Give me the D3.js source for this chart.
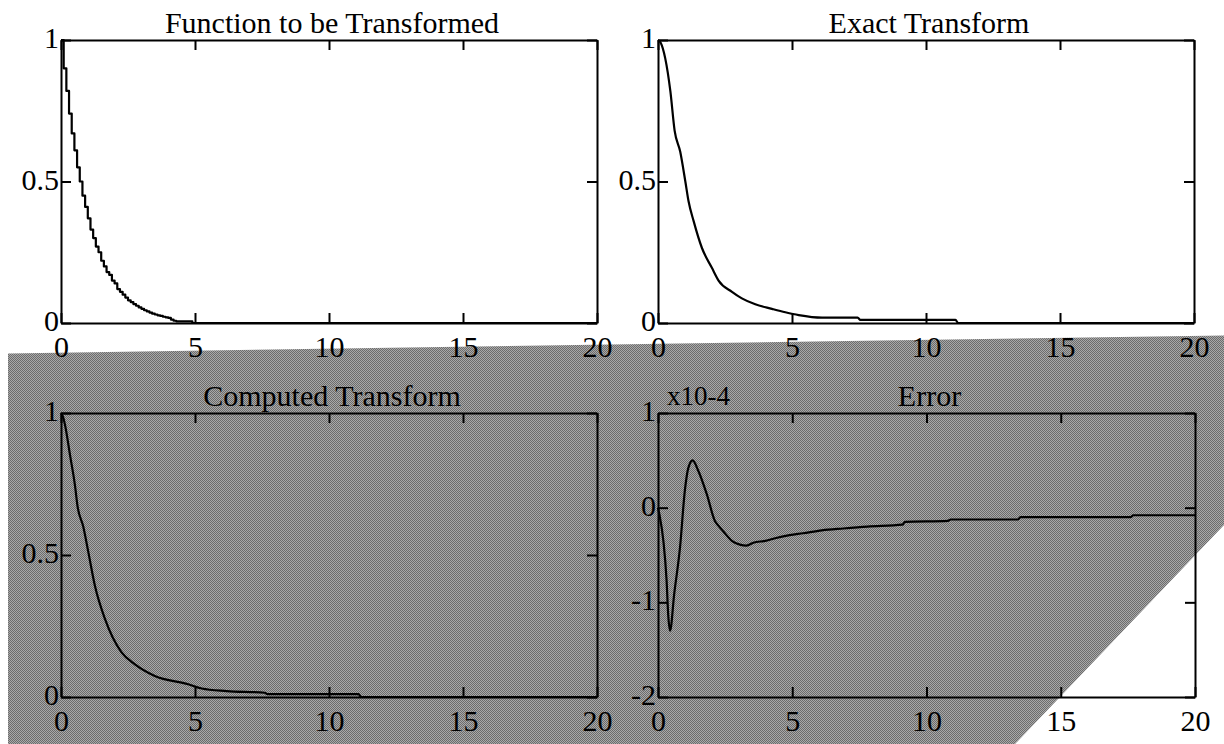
<!DOCTYPE html>
<html>
<head>
<meta charset="utf-8">
<script src="https://cdn.jsdelivr.net/npm/d3@7"></script>
<style>
  body { margin: 0; background: #fff; }
  text { font-family: "Liberation Serif", "Times New Roman", serif; fill: #000; }
</style>
</head>
<body>
<div id="viz"></div>
<script>

// ---- data ----
var xTicks = [0, 5, 10, 15, 20];
var unitTicks = [0, 0.5, 1];
var errTicks = [-2, -1, 0, 1];

// function to be transformed (stair plot)
var fnX = [0,0.1,0.2,0.3,0.4,0.5,0.6,0.7,0.8,0.9,1.0,1.1,1.2,1.3,1.4,1.5,1.6,1.7,1.8,1.9,
           2.0,2.1,2.2,2.3,2.4,2.5,2.6,2.7,2.8,2.9,3.0,3.1,3.2,3.3,3.4,3.5,3.6,3.7,3.8,3.9,
           4.0,4.1,4.2,4.3,4.4,4.5,4.6,4.7,4.8,4.9,5.0,20];
var fnY = [1.00,0.90,0.82,0.74,0.67,0.61,0.55,0.50,0.45,0.41,0.37,0.33,0.30,0.27,0.25,0.22,0.20,0.18,0.17,0.15,
           0.14,0.12,0.11,0.10,0.09,0.08,0.074,0.067,0.061,0.055,0.05,0.045,0.041,0.037,0.033,0.03,0.027,0.025,0.022,0.02,
           0.018,0.012,0.008,0.006,0.006,0.006,0.006,0.006,0.006,0,0,0];

// exact transform
var exactX = [0,0.1,0.27,0.46,0.62,0.83,1.02,1.14,1.33,1.64,2.01,2.26,2.76,3.13,3.63,4.25,4.75,5.25,6.12,7.45,7.55,11.1,11.2,20];
var exactY = [1.00,0.99,0.935,0.82,0.68,0.605,0.50,0.43,0.36,0.265,0.195,0.15,0.11,0.087,0.066,0.05,0.038,0.028,0.019,0.019,0.011,0.011,0,0];

// computed transform
var compX = [0,0.08,0.15,0.34,0.52,0.62,0.83,1.02,1.27,1.64,2.26,2.76,3.5,4.75,5.25,6.18,7.6,7.7,11.1,11.2,20];
var compY = [1.00,0.985,0.958,0.85,0.746,0.67,0.60,0.51,0.39,0.275,0.157,0.115,0.074,0.045,0.03,0.021,0.015,0.01,0.01,0,0];

// error, units of 1e-4
var errX = [0,0.05,0.2,0.32,0.38,0.45,0.6,0.82,1.0,1.13,1.29,1.5,1.82,2.12,2.25,2.43,2.75,3.05,3.3,3.55,
            4.0,4.4,4.9,5.4,6.1,6.9,7.8,9.1,9.2,10.8,10.9,13.4,13.5,17.6,17.7,20];
var errY = [0,-0.07,-0.35,-0.77,-1.13,-1.30,-0.92,-0.42,0.18,0.42,0.50,0.39,0.14,-0.14,-0.19,-0.25,-0.35,-0.39,-0.40,-0.37,
            -0.35,-0.32,-0.29,-0.27,-0.24,-0.22,-0.20,-0.18,-0.15,-0.14,-0.125,-0.125,-0.10,-0.10,-0.08,-0.08];

var viz = { width: 1224, height: 744 };
var fontSize = 30;

var svg = d3.select("#viz")
	.append("svg")
	.attr("width", viz.width)
	.attr("height", viz.height);

// dithered gray backdrop
var defs = svg.append("defs");
var pat = defs.append("pattern")
	.attr("id", "dither")
	.attr("patternUnits", "userSpaceOnUse")
	.attr("width", 2).attr("height", 2);
pat.append("rect").attr("width", 2).attr("height", 2).attr("fill", "#a9a9a9");
pat.append("rect").attr("x", 0).attr("y", 0).attr("width", 1).attr("height", 1).attr("fill", "#6c6c6c");
pat.append("rect").attr("x", 1).attr("y", 1).attr("width", 1).attr("height", 1).attr("fill", "#6c6c6c");

svg.append("polygon")
	.attr("points", "8,353.5 1224,335.5 1224,525 1015,744 8,744")
	.attr("fill", "url(#dither)");

var panels = [
	{ title: "Function to be Transformed", x0: 61, x1: 597, y0: 40, y1: 323, yd: [0, 1], yt: unitTicks, xs: fnX, ys: fnY, step: true },
	{ title: "Exact Transform", x0: 658, x1: 1194, y0: 40, y1: 323, yd: [0, 1], yt: unitTicks, xs: exactX, ys: exactY },
	{ title: "Computed Transform", x0: 61, x1: 597, y0: 413, y1: 697, yd: [0, 1], yt: unitTicks, xs: compX, ys: compY },
	{ title: "Error", x0: 658, x1: 1195, y0: 413, y1: 697, yd: [-2, 1], yt: errTicks, xs: errX, ys: errY, exp: "x10-4" }
];

panels.forEach(function(p, i) {
	var x = d3.scaleLinear().domain([0, 20]).range([p.x0, p.x1]);
	var y = d3.scaleLinear().domain(p.yd).range([p.y1, p.y0]);
	var g = svg.append("g");

	var yFmt = function(d) { return d3.format("")(d).replace("−", "-"); };

	var ax = [
		g.append("g").attr("transform", "translate(0," + p.y1 + ")")
			.call(d3.axisBottom(x).tickValues(xTicks).tickSize(-10).tickSizeOuter(0).tickPadding(13)),
		g.append("g").attr("transform", "translate(0," + p.y0 + ")")
			.call(d3.axisTop(x).tickValues(xTicks).tickSize(-10).tickSizeOuter(0).tickFormat("")),
		g.append("g").attr("transform", "translate(" + p.x0 + ",0)")
			.call(d3.axisLeft(y).tickValues(p.yt).tickSize(-10).tickSizeOuter(0).tickPadding(2).tickFormat(yFmt)),
		g.append("g").attr("transform", "translate(" + p.x1 + ",0)")
			.call(d3.axisRight(y).tickValues(p.yt).tickSize(-10).tickSizeOuter(0).tickFormat(""))
	];
	ax.forEach(function(a) {
		a.selectAll("path, line").attr("stroke", "#000").attr("stroke-width", 2);
		a.selectAll("text")
			.style("font-family", "'Liberation Serif', 'Times New Roman', serif")
			.style("font-size", fontSize + "px")
			.attr("fill", "#000");
	});
	ax[2].selectAll("text").attr("dy", "0.25em");

	var pts = p.xs.map(function(v, k) { return [v, p.ys[k]]; });
	var line = d3.line()
		.x(function(d) { return x(d[0]); })
		.y(function(d) { return y(d[1]); })
		.curve(p.step ? d3.curveStepAfter : d3.curveMonotoneX);
	g.append("path")
		.datum(pts)
		.attr("d", line)
		.attr("fill", "none")
		.attr("stroke", "#000")
		.attr("stroke-width", 2.2)
		.attr("stroke-linejoin", "round");

	g.append("text")
		.attr("x", (p.x0 + p.x1) / 2 + 3)
		.attr("y", p.y0 - 7)
		.attr("text-anchor", "middle")
		.style("font-size", fontSize + "px")
		.text(p.title);

	if (p.exp) {
		g.append("text")
			.attr("x", p.x0 + 9)
			.attr("y", p.y0 - 8)
			.style("font-size", "27px")
			.text(p.exp);
	}
});

</script>
</body>
</html>
